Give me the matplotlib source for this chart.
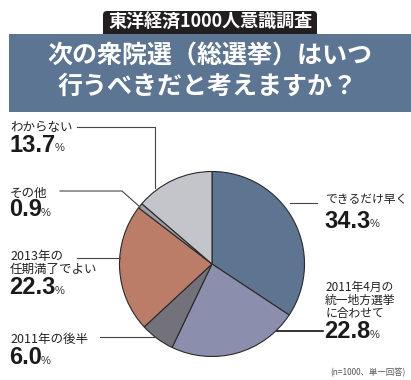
import matplotlib

matplotlib.use("Agg")
import matplotlib.pyplot as plt
from matplotlib.patches import FancyBboxPatch, Rectangle

plt.rcParams["font.family"] = ["Noto Sans CJK JP", "DejaVu Sans"]

# 東洋経済1000人意識調査 — clockwise from 12 o'clock
labels = ["できるだけ早く", "2011年4月の\n統一地方選挙\nに合わせて", "2011年の後半",
          "2013年の\n任期満了でよい", "その他", "わからない"]
shares = [34.3, 22.8, 6.0, 22.3, 0.9, 13.7]
colors = ["#5d7591", "#8b8eac", "#737179", "#bb7d68", "#9c9ca4", "#c4c5ca"]

W, H = 411, 380
fig = plt.figure(figsize=(W / 100, H / 100), dpi=100)
ax = fig.add_axes([0, 0, 1, 1])

# header
ax.add_patch(FancyBboxPatch((103, 11), 214, 26, boxstyle="round,pad=0,rounding_size=4",
                            fc="#231f20", ec="none"))
ax.text(210, 22, "東洋経済1000人意識調査", color="white", fontsize=13, fontweight="bold",
        ha="center", va="center")
ax.add_patch(Rectangle((9, 34), 402, 78, fc="#5b7592", ec="none"))
ax.text(210, 56, "次の衆院選（総選挙）はいつ", color="white", fontsize=18, fontweight="bold",
        ha="center", va="center")
ax.text(208, 87, "行うべきだと考えますか？", color="white", fontsize=18, fontweight="bold",
        ha="center", va="center")

# pie: y axis is inverted, so counterclock in data = clockwise on screen
ax.pie(shares, colors=colors, center=(212, 264), radius=92.5, startangle=-90,
       counterclock=True, wedgeprops=dict(edgecolor="#2a2a2a", linewidth=0.8), frame=True)
ax.set_xlim(0, W)
ax.set_ylim(H, 0)
ax.set_aspect("equal")
ax.axis("off")

num_font = ["Liberation Sans", "DejaVu Sans"]


def label(x, y_txt, txt, y_num, value, fs=9):
    ax.text(x, y_txt, txt, fontsize=fs, ha="left", va="center", color="#222222",
            linespacing=1.0)
    t = ax.text(x - 1, y_num, f"{value:.1f}", fontsize=17, fontweight="bold", ha="left",
                va="center", color="#1a1a1a", family=num_font)
    fig.canvas.draw()
    bb = t.get_window_extent().transformed(ax.transData.inverted())
    ax.text(bb.x1 - 1, y_num + 3, "%", fontsize=8, ha="left", va="center", color="#333333",
            family=num_font)


label(325, 200, labels[0], 221, shares[0], fs=8.5)
label(325, 300, labels[1], 332, shares[1], fs=8.5)
label(10, 339, labels[2], 358, shares[2])
label(10, 263, labels[3], 288, shares[3])
label(10, 193, labels[4], 210, shares[4])
label(10, 127, labels[5], 145, shares[5])

lc = "#444444"
ax.plot([290, 317], [203, 203], color=lc, lw=0.8)
ax.plot([277, 323], [331, 331], color="#111111", lw=1.2)
ax.plot([100, 156], [337, 337], color=lc, lw=0.8)
ax.plot([77, 120], [258, 258], color=lc, lw=0.8)
ax.plot([60, 122, 140], [191, 191, 207], color=lc, lw=0.8)
ax.plot([77, 155, 155], [127, 127, 188], color=lc, lw=0.8)

ax.text(405, 373, "(n=1000、単一回答)", fontsize=6, ha="right", va="center", color="#555555")

fig.savefig("out.png", dpi=100)
